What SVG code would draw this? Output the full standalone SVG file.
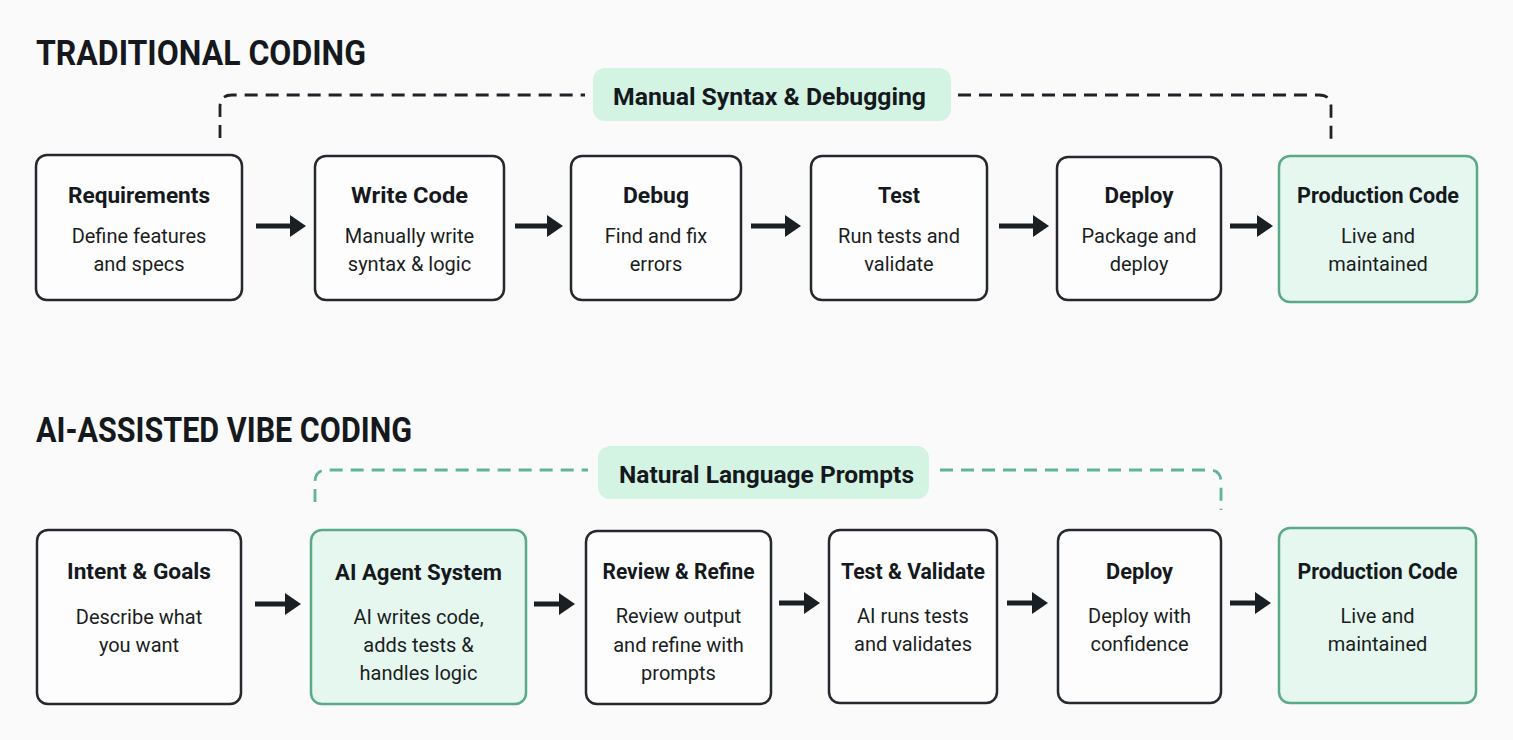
<svg xmlns="http://www.w3.org/2000/svg" width="1513" height="740" viewBox="0 0 1513 740">
<defs>
<style>
.hdr{font-family:Roboto,"Liberation Sans",sans-serif;font-weight:700;font-size:35px;fill:#15191d}
.box{fill:#fdfdfd;stroke:#25292e;stroke-width:2.5}
.gbox{fill:#e6f7ef;stroke:#5aa987;stroke-width:2.5}
.pill{fill:#d3f3e3}
.t{font-family:Roboto,"Liberation Sans",sans-serif;font-weight:700;font-size:22px;fill:#15191d;text-anchor:middle}
.s{font-family:Roboto,"Liberation Sans",sans-serif;font-size:20px;fill:#1a1e22;text-anchor:middle}
.pt{font-family:Roboto,"Liberation Sans",sans-serif;font-weight:700;font-size:24px;fill:#15191d;text-anchor:middle}
.arr{fill:none;stroke:#1a1f24;stroke-width:5;marker-end:url(#ah)}
.dk{fill:none;stroke:#1f2328;stroke-width:2.8;stroke-dasharray:13 8}
.dg{fill:none;stroke:#5fb594;stroke-width:2.8;stroke-dasharray:13 8}
</style>
<marker id="ah" markerUnits="userSpaceOnUse" markerWidth="16" markerHeight="22" viewBox="0 0 16 22" refX="4" refY="11" orient="auto">
<path d="M0,0 L16,11 L0,22 Z" fill="#1a1f24"/>
</marker>
</defs>
<rect width="1513" height="740" fill="#fafafa"/>

<text class="hdr" x="36" y="65" textLength="330" lengthAdjust="spacingAndGlyphs">TRADITIONAL CODING</text>
<text class="hdr" x="36" y="442" textLength="376" lengthAdjust="spacingAndGlyphs">AI-ASSISTED VIBE CODING</text>

<g id="connectors">
<path class="dk" d="M220,138 V107 Q220,95 232,95 H585"/>
<path class="dk" d="M958,95 H1319 Q1331,95 1331,107 V140"/>
<path class="dg" d="M315,502 V482 Q315,470 327,470 H588"/>
<path class="dg" d="M940,470 H1209 Q1221,470 1221,482 V510"/>
<path class="arr" d="M256,226 H294"/>
<path class="arr" d="M515,226 H551"/>
<path class="arr" d="M751,226 H789"/>
<path class="arr" d="M999,226 H1037"/>
<path class="arr" d="M1230,226 H1261"/>
<path class="arr" d="M255,604 H289"/>
<path class="arr" d="M534,604 H563"/>
<path class="arr" d="M779,603 H808"/>
<path class="arr" d="M1007,603 H1036"/>
<path class="arr" d="M1230,603 H1259"/>
</g>

<g id="pill-manual">
<rect class="pill" x="593" y="68" width="358" height="53" rx="12"/>
<text class="pt" x="769.5" y="105" textLength="313" lengthAdjust="spacingAndGlyphs">Manual Syntax &amp; Debugging</text>
</g>
<g id="pill-natural">
<rect class="pill" x="598" y="446" width="331" height="53" rx="12"/>
<text class="pt" x="766.5" y="483" textLength="295" lengthAdjust="spacingAndGlyphs">Natural Language Prompts</text>
</g>

<g id="t-req">
<rect class="box" x="36" y="155" width="206" height="145" rx="11"/>
<text class="t" x="139" y="203" textLength="142" lengthAdjust="spacingAndGlyphs">Requirements</text>
<text class="s" x="139" y="243">Define features</text>
<text class="s" x="139" y="271">and specs</text>
</g>
<g id="t-write">
<rect class="box" x="315" y="156" width="189" height="144" rx="11"/>
<text class="t" x="409.5" y="203" textLength="117" lengthAdjust="spacingAndGlyphs">Write Code</text>
<text class="s" x="409.5" y="243">Manually write</text>
<text class="s" x="409.5" y="271">syntax &amp; logic</text>
</g>
<g id="t-debug">
<rect class="box" x="571" y="156" width="170" height="144" rx="11"/>
<text class="t" x="656" y="203" textLength="66" lengthAdjust="spacingAndGlyphs">Debug</text>
<text class="s" x="656" y="243">Find and fix</text>
<text class="s" x="656" y="271">errors</text>
</g>
<g id="t-test">
<rect class="box" x="811" y="156" width="176" height="144" rx="11"/>
<text class="t" x="899" y="203" textLength="42" lengthAdjust="spacingAndGlyphs">Test</text>
<text class="s" x="899" y="243">Run tests and</text>
<text class="s" x="899" y="271">validate</text>
</g>
<g id="t-deploy">
<rect class="box" x="1057" y="157" width="164" height="143" rx="11"/>
<text class="t" x="1139" y="203" textLength="69" lengthAdjust="spacingAndGlyphs">Deploy</text>
<text class="s" x="1139" y="243">Package and</text>
<text class="s" x="1139" y="271">deploy</text>
</g>
<g id="t-prod">
<rect class="gbox" x="1279" y="156" width="198" height="146" rx="11"/>
<text class="t" x="1378" y="203" textLength="162" lengthAdjust="spacingAndGlyphs">Production Code</text>
<text class="s" x="1378" y="243">Live and</text>
<text class="s" x="1378" y="271">maintained</text>
</g>

<g id="a-intent">
<rect class="box" x="37" y="530" width="204" height="174" rx="11"/>
<text class="t" x="139" y="579" textLength="144" lengthAdjust="spacingAndGlyphs">Intent &amp; Goals</text>
<text class="s" x="139" y="624">Describe what</text>
<text class="s" x="139" y="652">you want</text>
</g>
<g id="a-agent">
<rect class="gbox" x="311" y="530" width="215" height="174" rx="11"/>
<text class="t" x="418.5" y="580" textLength="167" lengthAdjust="spacingAndGlyphs">AI Agent System</text>
<text class="s" x="418.5" y="624">AI writes code,</text>
<text class="s" x="418.5" y="652">adds tests &amp;</text>
<text class="s" x="418.5" y="680">handles logic</text>
</g>
<g id="a-review">
<rect class="box" x="586" y="531" width="185" height="173" rx="11"/>
<text class="t" x="678.5" y="579" textLength="152" lengthAdjust="spacingAndGlyphs">Review &amp; Refine</text>
<text class="s" x="678.5" y="623">Review output</text>
<text class="s" x="678.5" y="652">and refine with</text>
<text class="s" x="678.5" y="680">prompts</text>
</g>
<g id="a-test">
<rect class="box" x="829" y="530" width="168" height="173" rx="11"/>
<text class="t" x="913" y="579" textLength="144" lengthAdjust="spacingAndGlyphs">Test &amp; Validate</text>
<text class="s" x="913" y="623">AI runs tests</text>
<text class="s" x="913" y="651">and validates</text>
</g>
<g id="a-deploy">
<rect class="box" x="1058" y="530" width="163" height="173" rx="11"/>
<text class="t" x="1139.5" y="579" textLength="67" lengthAdjust="spacingAndGlyphs">Deploy</text>
<text class="s" x="1139.5" y="623">Deploy with</text>
<text class="s" x="1139.5" y="651">confidence</text>
</g>
<g id="a-prod">
<rect class="gbox" x="1279" y="528" width="197" height="175" rx="11"/>
<text class="t" x="1377.5" y="579" textLength="160" lengthAdjust="spacingAndGlyphs">Production Code</text>
<text class="s" x="1377.5" y="623">Live and</text>
<text class="s" x="1377.5" y="651">maintained</text>
</g>
</svg>
